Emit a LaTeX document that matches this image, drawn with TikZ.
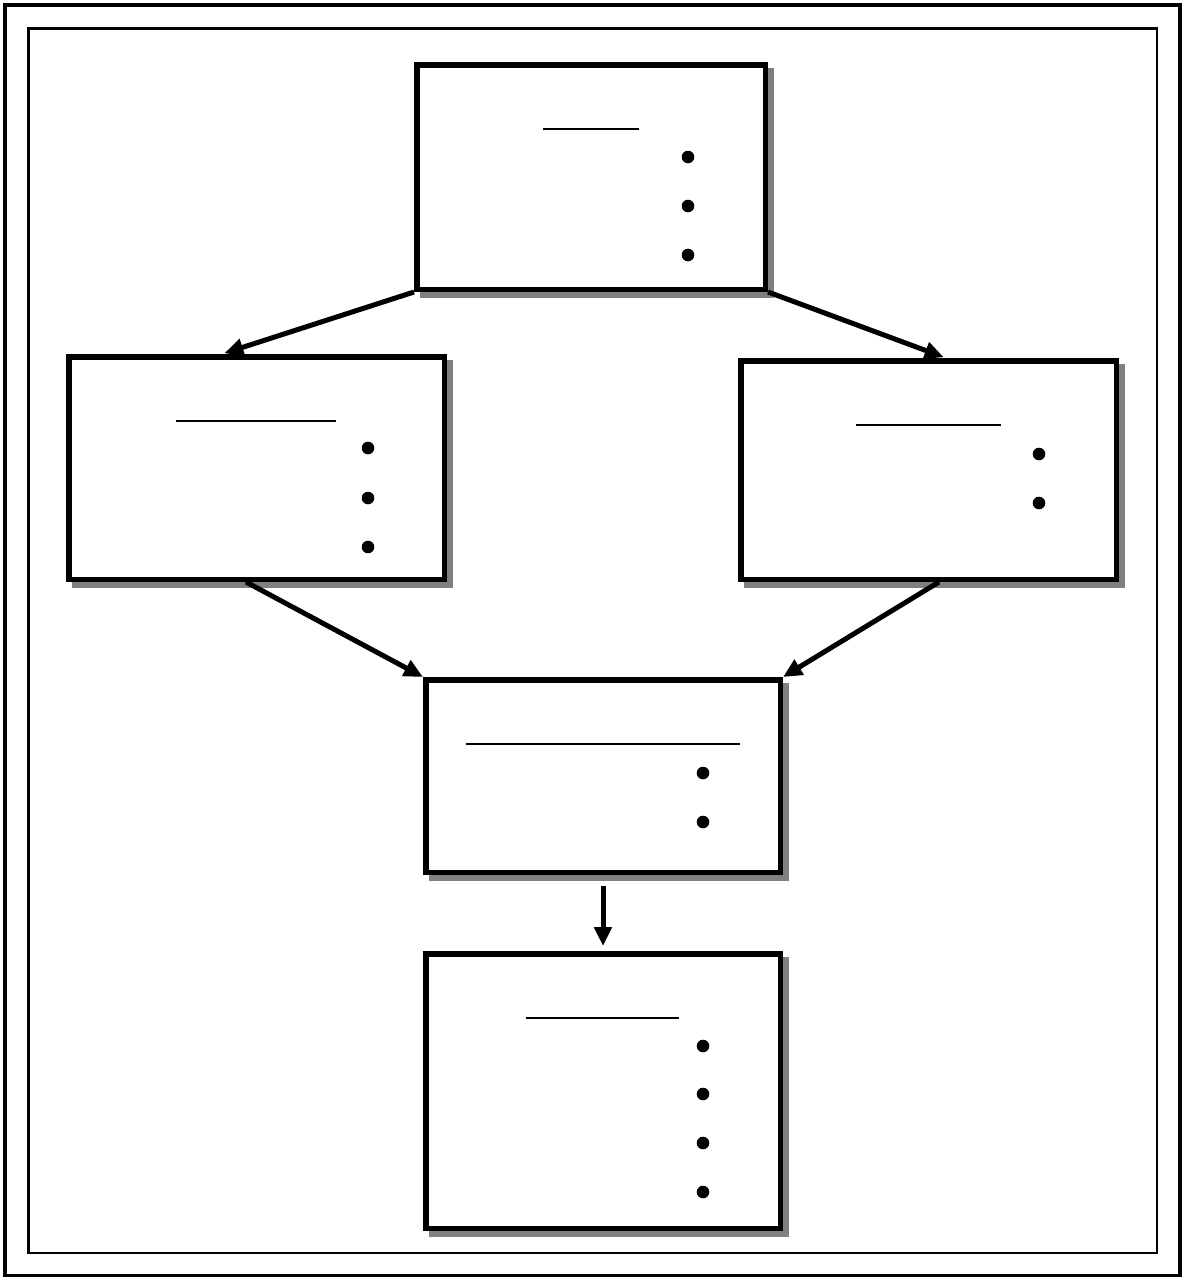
\documentclass[tikz,border=0pt]{standalone}
\usetikzlibrary{arrows.meta,shadows,calc}

\tikzset{
  panel/.style={rectangle, draw=black, line width=5.5pt, fill=white, inner sep=0pt,
    drop shadow={shadow xshift=6pt, shadow yshift=-6pt, fill=gray, draw=gray,
                 line width=5.5pt, opacity=1}},
  flow/.style={line width=5pt, -{Triangle[length=19pt,width=17pt]}},
  rule/.style={line width=2.5pt},
  bullet/.style={fill=black},
}

\begin{document}
\begin{tikzpicture}[x=1pt, y=-1pt]
  \useasboundingbox (0,0) rectangle (1183,1277);

  % double frame
  \draw[line width=4pt] (4.5,4.5) rectangle (1180,1275.5);
  \draw[line width=2.5pt] (28.5,28.5) rectangle (1157,1253);

  % panels
  \node[panel, minimum width=348.5pt, minimum height=224.5pt] (top)   at (591,177)   {};
  \node[panel, minimum width=375.5pt, minimum height=222.5pt] (left)  at (256.5,468) {};
  \node[panel, minimum width=375.5pt, minimum height=218.5pt] (right) at (928.5,470) {};
  \node[panel, minimum width=354.5pt, minimum height=192.5pt] (mid)   at (603,776)   {};
  \node[panel, minimum width=354.5pt, minimum height=274.5pt] (bot)   at (603,1091)  {};

  % connectors
  \draw[flow, shorten >=2.5pt] (top.south west) -- ([xshift=-34.5pt]left.north);
  \draw[flow, shorten >=2.5pt] (top.south east) -- ([xshift=17.5pt]right.north);
  \draw[flow] ([xshift=-10.5pt]left.south) -- (mid.north west);
  \draw[flow] ([xshift=10.5pt]right.south) -- (mid.north east);
  \draw[flow] ([yshift=-11pt]mid.south) -- ([yshift=5pt]bot.north);

  % heading rules and bullets inside the panels
  \draw[rule] (543,129) -- (639,129);
  \foreach \y in {157,206,255} \fill[bullet] (688,\y) circle (6.3pt);

  \draw[rule] (176,421) -- (336,421);
  \foreach \y in {448,498,547} \fill[bullet] (368,\y) circle (6.3pt);

  \draw[rule] (856,425) -- (1001,425);
  \foreach \y in {454,503} \fill[bullet] (1039,\y) circle (6.3pt);

  \draw[rule] (466,744) -- (740,744);
  \foreach \y in {773,822} \fill[bullet] (703,\y) circle (6.3pt);

  \draw[rule] (526,1018) -- (679,1018);
  \foreach \y in {1046,1094,1143,1192} \fill[bullet] (703,\y) circle (6.3pt);
\end{tikzpicture}
\end{document}
